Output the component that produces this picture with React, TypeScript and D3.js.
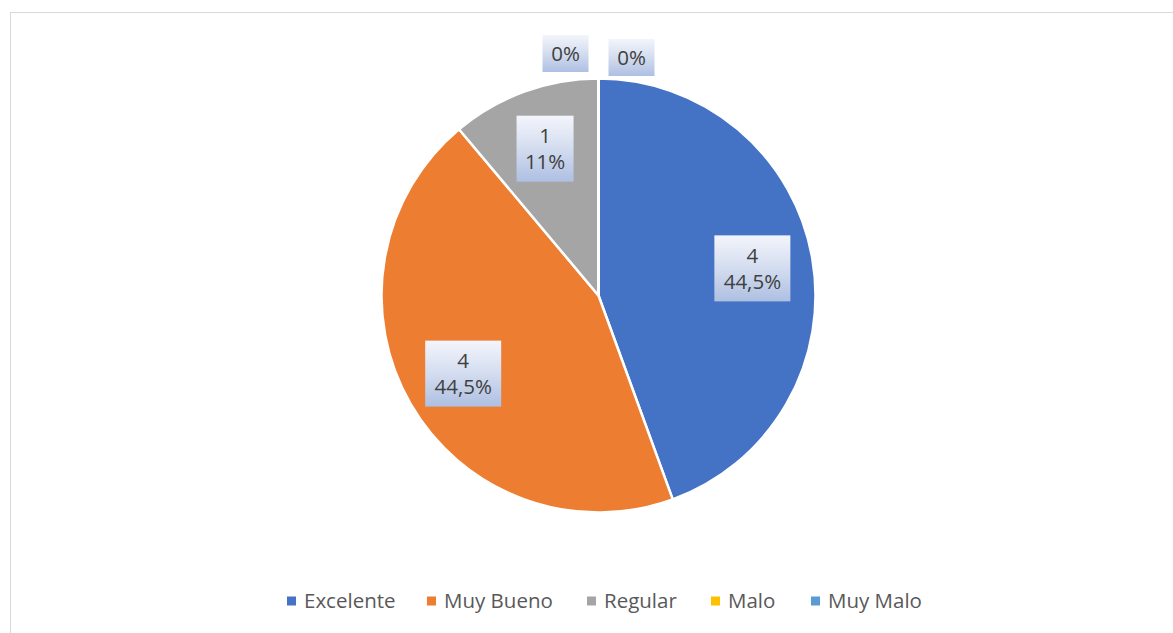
import React from 'react';
import * as d3 from 'd3';

const categories = ['Excelente', 'Muy Bueno', 'Regular', 'Malo', 'Muy Malo'];
const values = [4, 4, 1, 0, 0];
const percentLabels = ['44,5%', '44,5%', '11%', '0%', '0%'];
const colors = ['#4472C4', '#ED7D31', '#A5A5A5', '#FFC000', '#5B9BD5'];

const W = 1173;
const H = 633;
const cx = 598.5;
const cy = 295.5;
const R = 217;
const font = '"Open Sans", sans-serif';

const App = () => {
  const pie = d3.pie<number>().sort(null).value(d => d)(values);
  const arc = d3.arc<d3.PieArcDatum<number>>().innerRadius(0).outerRadius(R);
  const labelArc = d3.arc<d3.PieArcDatum<number>>().innerRadius(R * 0.72).outerRadius(R * 0.72);

  // legend layout
  const legendX = d3.scaleOrdinal<string, number>()
    .domain(categories)
    .range([287, 427, 587, 711, 811]);

  let zeroIdx = 0;

  return (
    <div style={{ position: 'absolute', left: 0, top: 0 }}>
      <svg width={W} height={H} style={{ display: 'block' }}>
        <defs>
          <linearGradient id="lblGrad" x1="0" y1="0" x2="0" y2="1">
            <stop offset="0%" stopColor="#f3f5fb" />
            <stop offset="55%" stopColor="#d0daee" />
            <stop offset="100%" stopColor="#aebfe2" />
          </linearGradient>
        </defs>
        <rect x={0} y={0} width={W} height={H} fill="#fff" />
        <rect x={10.5} y={12.5} width={W} height={H} fill="none" stroke="#d9d9d9" strokeWidth={1} />
        <g transform={`translate(${cx},${cy})`}>
          {pie.map((p, i) => (
            <path key={i} d={arc(p) || ''} fill={colors[i]} stroke="#fff" strokeWidth={2.5} />
          ))}
          {pie.map((p, i) => {
            let x: number, y: number, w: number, h: number;
            const lines = values[i] === 0 ? [percentLabels[i]] : [String(values[i]), percentLabels[i]];
            if (values[i] === 0) {
              // zero slices: labels outside near the top, pushed apart
              const side = zeroIdx === 0 ? -1 : 1;
              x = side * 33;
              y = -(R + 25) + zeroIdx * 4;
              zeroIdx++;
              w = 46;
              h = 37;
            } else {
              const c = labelArc.centroid(p);
              x = c[0];
              y = c[1];
              w = percentLabels[i].length > 3 ? 76 : 57;
              h = 66;
            }
            return (
              <g key={'l' + i} transform={`translate(${x},${y})`}>
                <rect x={-w / 2} y={-h / 2} width={w} height={h} fill="url(#lblGrad)" />
                {lines.map((t, j) => (
                  <text
                    key={j}
                    x={0}
                    y={(j - (lines.length - 1) / 2) * 26}
                    dy="0.36em"
                    textAnchor="middle"
                    fontFamily={font}
                    fontSize={20.5}
                    fill="#404040"
                  >
                    {t}
                  </text>
                ))}
              </g>
            );
          })}
        </g>
        <g>
          {categories.map((c, i) => (
            <g key={c} transform={`translate(${legendX(c)},601)`}>
              <rect x={0} y={-4.5} width={9} height={9} fill={colors[i]} />
              <text x={17} y={0} dy="0.36em" fontFamily={font} fontSize={20.5} fill="#595959">
                {c}
              </text>
            </g>
          ))}
        </g>
      </svg>
    </div>
  );
};

export default App;
